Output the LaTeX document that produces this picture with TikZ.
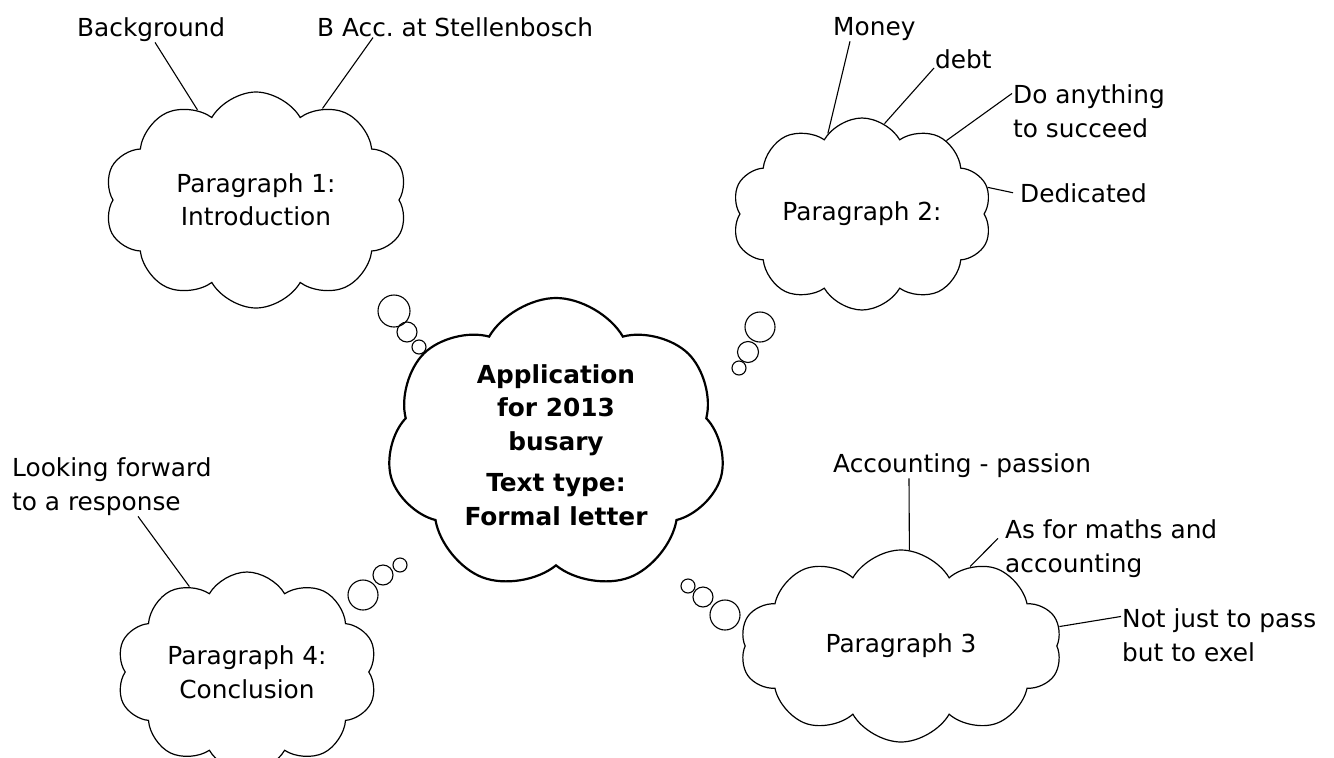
\documentclass[tikz,border=0pt]{standalone}
\usepackage{fontspec}
\setmainfont{DejaVu Sans}
\usetikzlibrary{shapes.symbols}

\newcommand{\mapfont}{\fontsize{24.8}{33.5}\selectfont}

\tikzset{
  thought/.style={draw, cloud, cloud puffs=10, cloud puff arc=120,
    cloud ignores aspect, inner sep=0pt, align=center, line width=1.2pt},
  topic/.style={thought, cloud puffs=7, line width=2.2pt, font=\mapfont\bfseries},
  lbl/.style={inner sep=1pt, align=left, anchor=base west},
  link/.style={line width=1.1pt},
  bubble/.style={draw, line width=1.1pt}
}

\begin{document}
\frenchspacing
\begin{tikzpicture}[x=1pt,y=-1pt,font=\mapfont]
  \useasboundingbox (0,0) rectangle (1334,758);
  % Central topic
  \node[topic, minimum width=338pt, minimum height=294pt] (main) at (556,445)
    {Application\\for 2013\\busary\\[8pt]Text type:\\Formal letter};
  % Paragraph clouds
  \node[thought, minimum width=303pt, minimum height=216pt] (p1) at (256,200) {Paragraph 1:\\Introduction};
  \node[thought, minimum width=260pt, minimum height=192pt] (p2) at (862,214) {Paragraph 2:};
  \node[thought, minimum width=322pt, minimum height=192pt] (p3) at (901,646) {Paragraph 3};
  \node[thought, minimum width=261pt, minimum height=200pt] (p4) at (247,672) {Paragraph 4:\\Conclusion};
  % Thought bubbles
  \foreach \x/\y/\r in {394/311/16, 407/332/10, 419/347/7,
                        760/327/15, 748/352/10.5, 739/368/7,
                        725/615/15, 703/597/10, 688/586/7,
                        363/595/15, 383/575/10, 400/565/7}
    \draw[bubble] (\x,\y) circle (\r);
  % Labels (two-line ones sit on their last baseline)
  \node[lbl] (bg) at (76,36) {Background};
  \node[lbl] (bacc) at (316,36) {B Acc. at Stellenbosch};
  \node[lbl] (money) at (832,35) {Money};
  \node[lbl] (debt) at (934,68) {debt};
  \node[lbl] (doany) at (1012,137) {Do anything\\to succeed};
  \node[lbl] (ded) at (1019,202) {Dedicated};
  \node[lbl] (look) at (11,510) {Looking forward\\to a response};
  \node[lbl] (acct) at (832,472) {Accounting - passion};
  \node[lbl] (asfor) at (1004,572) {As for maths and\\accounting};
  \node[lbl] (notjust) at (1121,661) {Not just to pass\\but to exel};
  % Connectors
  \draw[link] ([xshift=79pt]bg.south west) -- (p1.123);
  \draw[link] ([xshift=57pt]bacc.south west) -- (p1.54);
  \draw[link] ([xshift=18pt]money.south west) -- (p2.113);
  \draw[link] (debt.base west) -- (p2.76);
  \draw[link] ([yshift=-10pt]doany.north west) -- (p2.41);
  \draw[link] ([xshift=-6pt]ded.west) -- (p2.12);
  \draw[link] ([xshift=127pt]look.south west) -- (p4.124);
  \draw[link] ([xshift=77pt]acct.south west) -- (p3.85);
  \draw[link] ([xshift=-6pt,yshift=10pt]asfor.west) -- (p3.49);
  \draw[link] ([yshift=-9pt]notjust.north west) -- (p3.7);
\end{tikzpicture}
\end{document}
